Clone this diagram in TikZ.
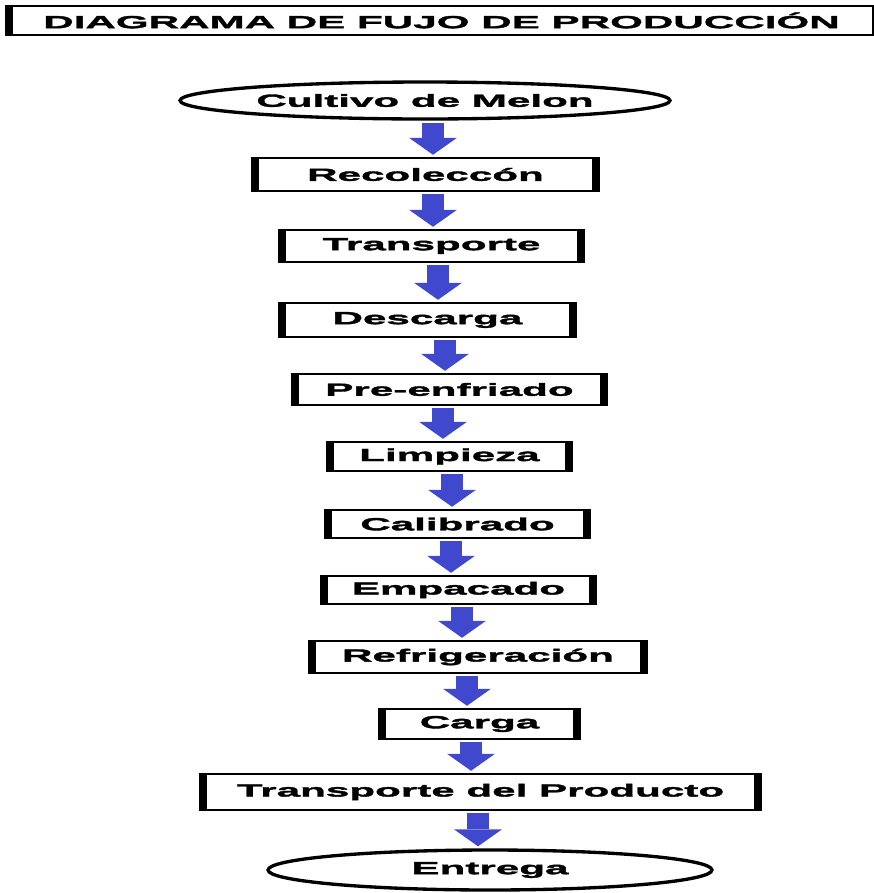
\documentclass[tikz,border=0pt]{standalone}
\usepackage{fontspec}
\newfontfamily\widefont[FakeStretch=2.4,FakeBold=2]{Liberation Sans}
\usepackage{tikz}
\usetikzlibrary{shapes.geometric,arrows.meta}
\definecolor{flowblue}{RGB}{64,72,206}

\tikzset{
  lbl/.style={font=\widefont\bfseries\fontsize{10}{11}\selectfont},
  stepbox/.style={lbl, draw, line width=1.4pt, inner sep=0pt},
  endcap/.style={lbl, ellipse, draw, line width=1.9pt, inner sep=0pt},
  sidebar/.style={line width=4.5pt},
  flow/.style={draw=flowblue, line width=0.44cm,
    -{Triangle[width=0.96cm,length=0.34cm,line width=0pt]},
    shorten <=0.04cm, shorten >=0.04cm}
}

\begin{document}
\begin{tikzpicture}[x=0.02cm,y=-0.02cm]
  \useasboundingbox (0,0) rectangle (874,893);
  % title
  \node[stepbox, minimum width=17.26cm, minimum height=0.58cm] (title) at (441.5,20.5)
    {DIAGRAMA DE FUJO DE PRODUCCIÓN};
  % process steps, top to bottom
  \node[endcap, minimum width=9.8cm, minimum height=0.74cm] (cultivo) at (425,100.5) {Cultivo de Melon};
  \node[stepbox, minimum width=6.78cm, minimum height=0.66cm] (recol) at (425.5,174.5) {Recoleccón};
  \node[stepbox, minimum width=5.94cm, minimum height=0.64cm] (transp) at (431.5,246) {Transporte};
  \node[stepbox, minimum width=5.78cm, minimum height=0.68cm] (descarga) at (427.5,320) {Descarga};
  \node[stepbox, minimum width=6.14cm, minimum height=0.62cm] (preenf) at (449.5,389.5) {Pre-enfriado};
  \node[stepbox, minimum width=4.74cm, minimum height=0.58cm] (limp) at (449.5,456.5) {Limpieza};
  \node[stepbox, minimum width=5.14cm, minimum height=0.56cm] (calib) at (457.5,524) {Calibrado};
  \node[stepbox, minimum width=5.34cm, minimum height=0.56cm] (empac) at (458.5,590) {Empacado};
  \node[stepbox, minimum width=6.6cm, minimum height=0.64cm] (refrig) at (478,657) {Refrigeración};
  \node[stepbox, minimum width=3.86cm, minimum height=0.6cm] (carga) at (479.5,724) {Carga};
  \node[stepbox, minimum width=11.06cm, minimum height=0.72cm] (tprod) at (480.5,792) {Transporte del Producto};
  \node[endcap, minimum width=8.88cm, minimum height=0.8cm] (entrega) at (490,870) {Entrega};
  % heavy side edges of the boxes
  \draw[sidebar] (title.north west) -- (title.south west);
  \foreach \n in {recol,transp,descarga,preenf,limp,calib,empac,refrig,carga,tprod} {
    \draw[sidebar] (\n.north west) -- (\n.south west);
    \draw[sidebar] (\n.north east) -- (\n.south east);
  }
  % block arrows
  \foreach \a/\b/\x in {cultivo/recol/433, recol/transp/433, transp/descarga/438,
      descarga/preenf/445, preenf/limp/443, limp/calib/452, calib/empac/451,
      empac/refrig/462, refrig/carga/467, carga/tprod/471, tprod/entrega/478} {
    \coordinate (col) at (\x,0);
    \draw[flow] (\a.south -| col) -- (\b.north -| col);
  }
\end{tikzpicture}
\end{document}
